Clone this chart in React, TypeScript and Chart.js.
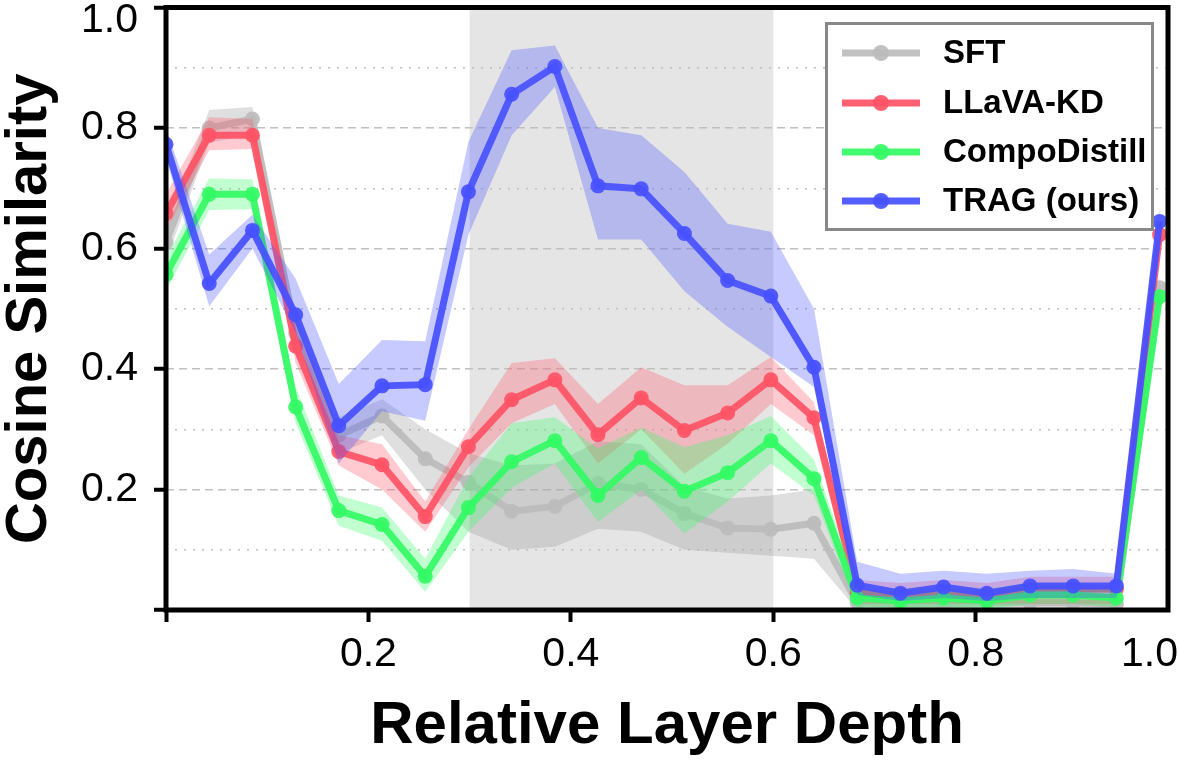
import React, { useEffect, useRef } from "react";
import { Chart, registerables } from "chart.js";

Chart.register(...registerables);

// ---------- data ----------
const DEPTHS = [
  0.0, 0.0427, 0.0854, 0.1281, 0.1707, 0.2134, 0.2561, 0.2988, 0.3415, 0.3842, 0.4268, 0.4695,
  0.5122, 0.5549, 0.5976, 0.6402, 0.6829, 0.7256, 0.7683, 0.811, 0.8537, 0.8963, 0.939, 0.9817,
];

const SERIES_NAMES = ["SFT", "LLaVA-KD", "CompoDistill", "TRAG (ours)"];

const SFT_MEAN = [0.61, 0.8, 0.815, 0.46, 0.29, 0.322, 0.251, 0.212, 0.164, 0.172, 0.21, 0.2, 0.16, 0.136, 0.134, 0.144, 0.012, 0.01, 0.01, 0.012, 0.012, 0.012, 0.01, 0.535];
const SFT_LOW = [0.58, 0.775, 0.79, 0.43, 0.26, 0.29, 0.2, 0.13, 0.1, 0.105, 0.135, 0.13, 0.1, 0.095, 0.09, 0.085, 0.0, 0.0, 0.0, 0.0, 0.0, 0.0, 0.0, 0.51];
const SFT_HIGH = [0.64, 0.83, 0.835, 0.49, 0.32, 0.35, 0.3, 0.26, 0.24, 0.243, 0.28, 0.275, 0.205, 0.185, 0.19, 0.2, 0.03, 0.025, 0.025, 0.025, 0.025, 0.025, 0.025, 0.56];

const KD_MEAN = [0.658, 0.788, 0.788, 0.438, 0.263, 0.241, 0.155, 0.271, 0.349, 0.382, 0.291, 0.352, 0.298, 0.327, 0.382, 0.319, 0.03, 0.025, 0.03, 0.025, 0.035, 0.035, 0.035, 0.623];
const KD_LOW = [0.63, 0.763, 0.765, 0.41, 0.24, 0.2, 0.13, 0.237, 0.31, 0.342, 0.243, 0.3, 0.226, 0.276, 0.342, 0.29, 0.01, 0.01, 0.01, 0.01, 0.01, 0.01, 0.01, 0.6];
const KD_HIGH = [0.69, 0.818, 0.815, 0.47, 0.29, 0.275, 0.18, 0.3, 0.41, 0.418, 0.342, 0.403, 0.373, 0.373, 0.42, 0.345, 0.05, 0.045, 0.05, 0.045, 0.055, 0.055, 0.055, 0.645];

const CD_MEAN = [0.557, 0.69, 0.69, 0.337, 0.165, 0.142, 0.056, 0.17, 0.246, 0.281, 0.19, 0.253, 0.197, 0.228, 0.281, 0.218, 0.02, 0.015, 0.02, 0.015, 0.025, 0.025, 0.02, 0.52];
const CD_LOW = [0.53, 0.664, 0.665, 0.31, 0.14, 0.115, 0.03, 0.13, 0.203, 0.243, 0.146, 0.2, 0.127, 0.18, 0.243, 0.19, 0.0, 0.0, 0.005, 0.0, 0.01, 0.01, 0.005, 0.5];
const CD_HIGH = [0.585, 0.716, 0.715, 0.37, 0.19, 0.17, 0.085, 0.22, 0.31, 0.32, 0.268, 0.303, 0.27, 0.29, 0.322, 0.25, 0.04, 0.035, 0.04, 0.035, 0.045, 0.045, 0.04, 0.54];

const TRAG_MEAN = [0.773, 0.542, 0.63, 0.49, 0.306, 0.372, 0.374, 0.694, 0.856, 0.902, 0.704, 0.699, 0.625, 0.547, 0.521, 0.403, 0.041, 0.028, 0.038, 0.028, 0.04, 0.04, 0.04, 0.645];
const TRAG_LOW = [0.75, 0.504, 0.6, 0.46, 0.243, 0.33, 0.314, 0.623, 0.788, 0.868, 0.615, 0.615, 0.529, 0.47, 0.42, 0.37, 0.025, 0.015, 0.02, 0.015, 0.02, 0.02, 0.02, 0.62];
const TRAG_HIGH = [0.8, 0.59, 0.656, 0.55, 0.375, 0.448, 0.446, 0.777, 0.929, 0.937, 0.8, 0.788, 0.727, 0.641, 0.628, 0.5, 0.08, 0.06, 0.065, 0.06, 0.065, 0.068, 0.06, 0.67];

const X_TICKS = [0, 0.2, 0.4, 0.6, 0.8];
const X_TICK_LABELS = ["", "0.2", "0.4", "0.6", "0.8"];
const X_END_LABEL = "1.0";
const Y_MAJOR_TICKS = [0, 0.2, 0.4, 0.6, 0.8, 1.0];
const Y_TICK_LABELS = ["", "0.2", "0.4", "0.6", "0.8", ""];
const Y_END_LABEL = "1.0";
const Y_MINOR_TICKS = [0.1, 0.3, 0.5, 0.7, 0.9];
const SHADED_RANGE = [0.3, 0.6];
const X_MAX = 0.99;

const LINE_COLORS = ["rgba(188,188,188,0.92)", "rgba(255,84,102,0.92)", "rgba(51,250,100,0.92)", "rgba(70,80,255,0.92)"];
const BAND_COLORS = ["rgba(150,150,150,0.3)", "rgba(255,84,102,0.3)", "rgba(51,255,102,0.3)", "rgba(70,80,255,0.3)"];

const FONT = "'Liberation Sans', Arial, sans-serif";

export default function App() {
  const ref = useRef<HTMLCanvasElement | null>(null);

  useEffect(() => {
    const canvas = ref.current;
    if (!canvas) return;

    const series = [
      { name: SERIES_NAMES[0], mean: SFT_MEAN, low: SFT_LOW, high: SFT_HIGH },
      { name: SERIES_NAMES[1], mean: KD_MEAN, low: KD_LOW, high: KD_HIGH },
      { name: SERIES_NAMES[2], mean: CD_MEAN, low: CD_LOW, high: CD_HIGH },
      { name: SERIES_NAMES[3], mean: TRAG_MEAN, low: TRAG_LOW, high: TRAG_HIGH },
    ];

    const datasets: any[] = [];
    series.forEach((s, k) => {
      datasets.push({
        label: s.name + " upper",
        data: DEPTHS.map((x, i) => ({ x, y: s.high[i] })),
        borderWidth: 0,
        borderColor: "transparent",
        pointRadius: 0,
        pointHoverRadius: 0,
        fill: "+1",
        backgroundColor: BAND_COLORS[k],
        clip: 0,
      });
      datasets.push({
        label: s.name + " lower",
        data: DEPTHS.map((x, i) => ({ x, y: s.low[i] })),
        borderWidth: 0,
        borderColor: "transparent",
        pointRadius: 0,
        pointHoverRadius: 0,
        fill: false,
        backgroundColor: "transparent",
        clip: 0,
      });
      datasets.push({
        label: s.name,
        data: DEPTHS.map((x, i) => ({ x, y: s.mean[i] })),
        borderColor: LINE_COLORS[k],
        backgroundColor: LINE_COLORS[k],
        pointBackgroundColor: LINE_COLORS[k],
        borderWidth: 7,
        pointRadius: 7.5,
        pointBorderWidth: 0,
        fill: false,
        clip: 0,
      });
    });
    const n = datasets.length;
    datasets.forEach((d, i) => {
      d.order = n - i;
    });

    const decorPlugin = {
      id: "decor",
      beforeDraw(chart: any) {
        const { ctx, chartArea, scales } = chart;
        const x0 = scales.x.getPixelForValue(SHADED_RANGE[0]);
        const x1 = scales.x.getPixelForValue(SHADED_RANGE[1]);
        ctx.save();
        ctx.fillStyle = "rgb(229,229,229)";
        ctx.fillRect(x0, chartArea.top, x1 - x0, chartArea.bottom - chartArea.top);
        ctx.restore();
      },
      afterDatasetsDraw(chart: any) {
        const { ctx, chartArea } = chart;
        ctx.save();
        ctx.strokeStyle = "#000";
        ctx.lineWidth = 5;
        ctx.strokeRect(chartArea.left, chartArea.top, chartArea.right - chartArea.left, chartArea.bottom - chartArea.top);
        ctx.restore();
      },
      afterDraw(chart: any) {
        const { ctx, chartArea, scales } = chart;
        ctx.save();
        // end labels
        ctx.fillStyle = "#000";
        ctx.font = `41px ${FONT}`;
        const xs = scales.x;
        const items = (xs as any)._labelItems || [];
        const ref2 = items[1];
        let ly = chartArea.bottom + 12 + 8;
        let base: CanvasTextBaseline = "top";
        if (ref2 && ref2.options) {
          ly = ref2.options.translation[1] + (ref2.textOffset || 0);
          base = ref2.options.textBaseline || "top";
        }
        ctx.textAlign = "right";
        ctx.textBaseline = base;
        ctx.fillText(X_END_LABEL, 1178, ly);
        ctx.textAlign = "right";
        ctx.textBaseline = "middle";
        ctx.fillText(Y_END_LABEL, chartArea.left - 12 - 16, chartArea.top + 13);

        // legend
        const bx = 826.5, by = 23.5, bw = 326, bh = 206;
        ctx.fillStyle = "#fff";
        ctx.fillRect(bx, by, bw, bh);
        ctx.strokeStyle = "#888";
        ctx.lineWidth = 3;
        ctx.strokeRect(bx, by, bw, bh);
        const rows = [53, 103, 152, 201];
        SERIES_NAMES.forEach((name, k) => {
          const y = rows[k];
          ctx.strokeStyle = LINE_COLORS[k];
          ctx.lineWidth = 7;
          ctx.beginPath();
          ctx.moveTo(842, y);
          ctx.lineTo(920, y);
          ctx.stroke();
          ctx.fillStyle = LINE_COLORS[k];
          ctx.beginPath();
          ctx.arc(881, y, 8, 0, Math.PI * 2);
          ctx.fill();
          ctx.fillStyle = "#000";
          ctx.font = `bold 33px ${FONT}`;
          ctx.textAlign = "left";
          ctx.textBaseline = "middle";
          ctx.fillText(name, 943, y + 1);
        });
        ctx.restore();
      },
    };

    const chart = new Chart(canvas, {
      type: "line",
      data: { datasets },
      options: {
        responsive: false,
        animation: false,
        devicePixelRatio: 1,
        events: [],
        layout: { padding: { left: 0, top: 5, right: 11, bottom: 0 } },
        plugins: {
          legend: { display: false },
          tooltip: { enabled: false },
        },
        elements: { line: { tension: 0 } },
        scales: {
          x: {
            type: "linear",
            min: 0,
            max: X_MAX,
            afterBuildTicks: (s: any) => {
              s.ticks = X_TICKS.map((v) => ({ value: v }));
            },
            afterFit: (s: any) => {
              s.height = 151;
              s.paddingLeft = 0;
              s.paddingRight = 0;
            },
            ticks: {
              callback: (_v: any, i: number) => X_TICK_LABELS[i],
              font: { family: FONT, size: 41 },
              color: "#000",
              padding: 8,
              maxRotation: 0,
              autoSkip: false,
            },
            grid: { drawOnChartArea: false, drawTicks: true, tickLength: 12, tickWidth: 4, tickColor: "#000" },
            border: { display: false },
            title: {
              display: true,
              text: "Relative Layer Depth",
              font: { family: FONT, size: 60, weight: "bold", lineHeight: 1 },
              color: "#000",
              padding: { top: 0, bottom: 5 },
            },
          },
          y: {
            type: "linear",
            position: "left",
            min: 0,
            max: 1,
            afterBuildTicks: (s: any) => {
              s.ticks = Y_MAJOR_TICKS.map((v) => ({ value: v }));
            },
            afterFit: (s: any) => {
              s.width = 166;
              s.paddingTop = 0;
              s.paddingBottom = 0;
            },
            ticks: {
              callback: (_v: any, i: number) => Y_TICK_LABELS[i],
              font: { family: FONT, size: 41 },
              color: "#000",
              padding: 16,
              autoSkip: false,
            },
            grid: {
              color: (ctx: any) =>
                ctx.tick && (ctx.tick.value === 0 || ctx.tick.value === 1) ? "rgba(0,0,0,0)" : "rgb(192,192,192)",
              lineWidth: 1.5,
              drawTicks: true,
              tickLength: 12,
              tickWidth: 4,
              tickColor: "#000",
            },
            border: { display: false, dash: [8, 5] },
            title: {
              display: true,
              text: "Cosine Similarity",
              font: { family: FONT, size: 58, weight: "bold", lineHeight: 1 },
              color: "#000",
              padding: { top: 1, bottom: 0 },
            },
          },
          y2: {
            type: "linear",
            position: "right",
            min: 0,
            max: 1,
            afterBuildTicks: (s: any) => {
              s.ticks = Y_MINOR_TICKS.map((v) => ({ value: v }));
            },
            afterFit: (s: any) => {
              s.width = 0;
              s.paddingTop = 0;
              s.paddingBottom = 0;
            },
            ticks: { display: false },
            grid: { color: "rgb(192,192,192)", lineWidth: 1.5, drawTicks: false },
            border: { display: false, dash: [2, 7] },
          },
        },
      } as any,
      plugins: [decorPlugin],
    });

    return () => {
      chart.destroy();
    };
  }, []);

  return (
    <div style={{ position: "absolute", left: 0, top: 0, width: 1179, height: 761, background: "#fff" }}>
      <canvas ref={ref} width={1179} height={761} style={{ display: "block" }} />
    </div>
  );
}
